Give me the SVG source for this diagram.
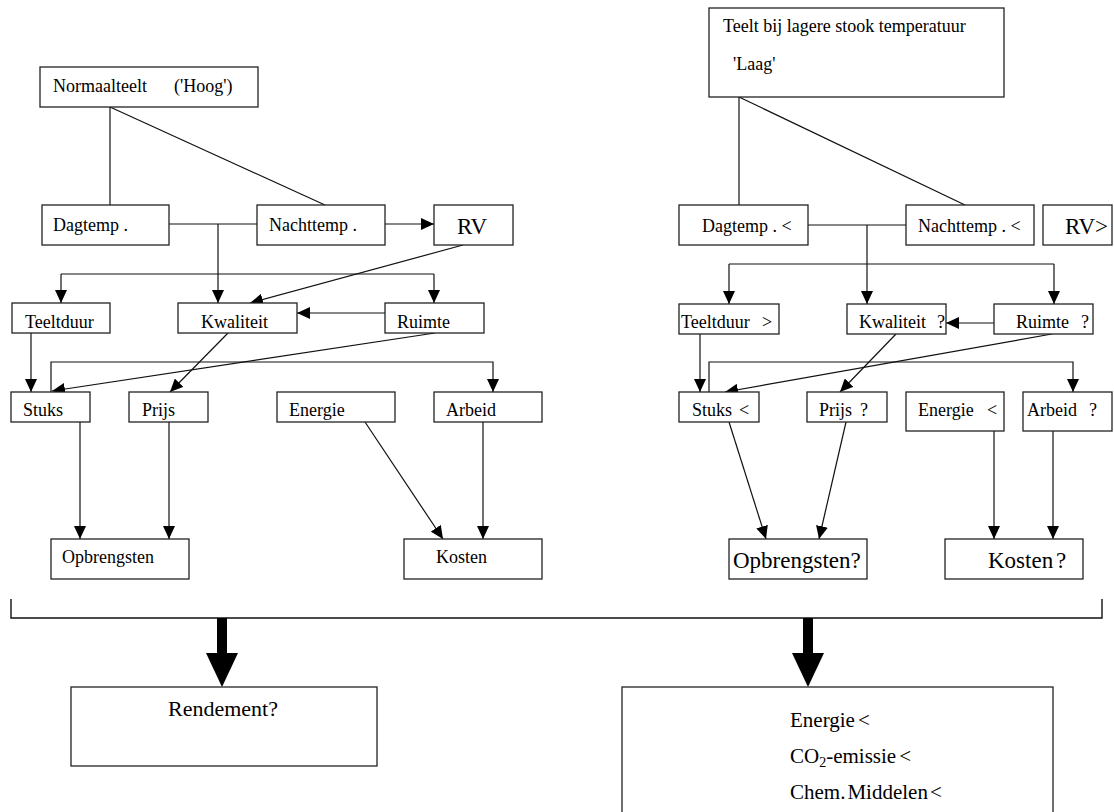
<svg xmlns="http://www.w3.org/2000/svg" width="1114" height="812" viewBox="0 0 1114 812">
<style>
.b{fill:#fff;stroke:#222;stroke-width:1.3}
.t{font-family:"Liberation Serif","Times New Roman",serif;font-size:18px;fill:#000}
.L{font-size:23px}
.c{fill:none;stroke:#111;stroke-width:1.2}
.a{marker-end:url(#ah)}
</style>
<defs>
<marker id="ah" markerUnits="userSpaceOnUse" markerWidth="13" markerHeight="12" refX="13" refY="6" orient="auto"><path d="M0,0 L13,6 L0,12 z" fill="#000"/></marker>
</defs>
<rect width="1114" height="812" fill="#fff"/>
<g id="connectors">
<!-- left -->
<path class="c" d="M110,107 V205"/>
<path class="c" d="M110,107 L325,205"/>
<path class="c" d="M169,224 H257"/>
<path class="c a" d="M218,224 V303"/>
<path class="c a" d="M385,224 H434"/>
<path class="c" d="M61,274 H434"/>
<path class="c a" d="M61,274 V303"/>
<path class="c a" d="M434,274 V303"/>
<path class="c a" d="M463,245 L250,303"/>
<path class="c a" d="M385,313 H297"/>
<path class="c a" d="M31,333 V392"/>
<path class="c a" d="M228,333 L170,392"/>
<path class="c a" d="M435,333 L52,391"/>
<path class="c a" d="M51,392 V362 H493 V392"/>
<path class="c a" d="M80,422 V539"/>
<path class="c a" d="M169,422 V539"/>
<path class="c a" d="M365,422 L443,539"/>
<path class="c a" d="M483,422 V539"/>
<!-- right -->
<path class="c" d="M739,97 V205"/>
<path class="c" d="M739,97 L965,205"/>
<path class="c" d="M808,225 H906"/>
<path class="c a" d="M867,225 V304"/>
<path class="c" d="M729,264 H1054"/>
<path class="c a" d="M729,264 V304"/>
<path class="c a" d="M1054,264 V304"/>
<path class="c a" d="M994,323 H946"/>
<path class="c a" d="M700,334 V392"/>
<path class="c a" d="M896,334 L840,392"/>
<path class="c a" d="M1052,334 L725,392"/>
<path class="c a" d="M709,392 V362 H1073 V392"/>
<path class="c a" d="M729,422 L766,539"/>
<path class="c a" d="M846,422 L819,539"/>
<path class="c a" d="M994,412 V539"/>
<path class="c a" d="M1053,412 V539"/>
<!-- bracket and big arrows -->
<path class="c" style="stroke-width:1.4" d="M11,599 V618 H1102 V599"/>
<rect x="217" y="618" width="10" height="36" fill="#000"/>
<polygon points="206,653 238,653 222,687" fill="#000"/>
<rect x="803" y="618" width="10" height="36" fill="#000"/>
<polygon points="792,653 824,653 808,687" fill="#000"/>
</g>
<g id="n-normaal"><rect class="b" x="40" y="67" width="218" height="40"/><text class="t" y="92"><tspan x="53">Normaalteelt</tspan><tspan x="174">('Hoog')</tspan></text></g>
<g id="n-dagtemp-l"><rect class="b" x="42" y="205" width="127" height="40"/><text class="t" x="53" y="231">Dagtemp .</text></g>
<g id="n-nachttemp-l"><rect class="b" x="257" y="205" width="128" height="40"/><text class="t" x="269" y="231">Nachttemp .</text></g>
<g id="n-rv-l"><rect class="b" x="434" y="205" width="79" height="40"/><text class="t L" x="457" y="234">RV</text></g>
<g id="n-teeltduur-l"><rect class="b" x="12" y="303" width="98" height="30"/><text class="t" x="25" y="328">Teeltduur</text></g>
<g id="n-kwaliteit-l"><rect class="b" x="178" y="303" width="119" height="30"/><text class="t" x="201" y="328">Kwaliteit</text></g>
<g id="n-ruimte-l"><rect class="b" x="385" y="303" width="99" height="30"/><text class="t" x="397" y="328">Ruimte</text></g>
<g id="n-stuks-l"><rect class="b" x="11" y="392" width="79" height="30"/><text class="t" x="23" y="416">Stuks</text></g>
<g id="n-prijs-l"><rect class="b" x="129" y="392" width="79" height="30"/><text class="t" x="142" y="416">Prijs</text></g>
<g id="n-energie-l"><rect class="b" x="277" y="392" width="118" height="30"/><text class="t" x="289" y="416">Energie</text></g>
<g id="n-arbeid-l"><rect class="b" x="434" y="392" width="108" height="30"/><text class="t" x="446" y="416">Arbeid</text></g>
<g id="n-opbrengsten-l"><rect class="b" x="51" y="539" width="138" height="40"/><text class="t" x="62" y="563">Opbrengsten</text></g>
<g id="n-kosten-l"><rect class="b" x="404" y="539" width="138" height="40"/><text class="t" x="436" y="563">Kosten</text></g>

<g id="n-laag"><rect class="b" x="709" y="8" width="295" height="89"/><text class="t" x="723" y="32">Teelt bij lagere stook temperatuur</text><text class="t" x="733" y="70">'Laag'</text></g>
<g id="n-dagtemp-r"><rect class="b" x="679" y="205" width="129" height="40"/><text class="t" x="702" y="232">Dagtemp . &lt;</text></g>
<g id="n-nachttemp-r"><rect class="b" x="906" y="205" width="128" height="40"/><text class="t" x="918" y="232">Nachttemp . &lt;</text></g>
<g id="n-rv-r"><rect class="b" x="1043" y="205" width="69" height="40"/><text class="t L" x="1065" y="234">RV&gt;</text></g>
<g id="n-teeltduur-r"><rect class="b" x="679" y="304" width="100" height="30"/><text class="t" y="328"><tspan x="681">Teeltduur</tspan><tspan x="762">&gt;</tspan></text></g>
<g id="n-kwaliteit-r"><rect class="b" x="847" y="304" width="99" height="30"/><text class="t" y="328"><tspan x="859">Kwaliteit</tspan><tspan x="937">?</tspan></text></g>
<g id="n-ruimte-r"><rect class="b" x="994" y="304" width="99" height="30"/><text class="t" y="328"><tspan x="1016">Ruimte</tspan><tspan x="1081">?</tspan></text></g>
<g id="n-stuks-r"><rect class="b" x="679" y="392" width="80" height="30"/><text class="t" y="416"><tspan x="692">Stuks</tspan><tspan x="739">&lt;</tspan></text></g>
<g id="n-prijs-r"><rect class="b" x="807" y="392" width="80" height="30"/><text class="t" y="416"><tspan x="819">Prijs</tspan><tspan x="860">?</tspan></text></g>
<g id="n-energie-r"><rect class="b" x="906" y="392" width="98" height="39"/><text class="t" y="416"><tspan x="918">Energie</tspan><tspan x="987">&lt;</tspan></text></g>
<g id="n-arbeid-r"><rect class="b" x="1023" y="392" width="89" height="39"/><text class="t" y="416"><tspan x="1027">Arbeid</tspan><tspan x="1089">?</tspan></text></g>
<g id="n-opbrengsten-r"><rect class="b" x="729" y="539" width="138" height="40"/><text class="t L" x="733" y="568">Opbrengsten?</text></g>
<g id="n-kosten-r"><rect class="b" x="945" y="539" width="138" height="40"/><text class="t L" y="568"><tspan x="988">Kosten</tspan><tspan x="1056">?</tspan></text></g>

<g id="n-rendement"><rect class="b" x="71" y="687" width="306" height="79"/><text class="t" style="font-size:22px" x="223" y="716" text-anchor="middle">Rendement?</text></g>
<g id="n-effects"><rect class="b" x="622" y="687" width="431" height="140"/>
<text class="t" style="font-size:21px" x="790" y="727">Energie<tspan dx="3">&lt;</tspan></text>
<text class="t" style="font-size:21px" x="790" y="763">CO<tspan font-size="14" dy="4">2</tspan><tspan dy="-4">-emissie</tspan><tspan dx="3">&lt;</tspan></text>
<text class="t" style="font-size:21px" x="790" y="799">Chem.<tspan dx="2">Middelen</tspan><tspan dx="2">&lt;</tspan></text>
</g>
</svg>
